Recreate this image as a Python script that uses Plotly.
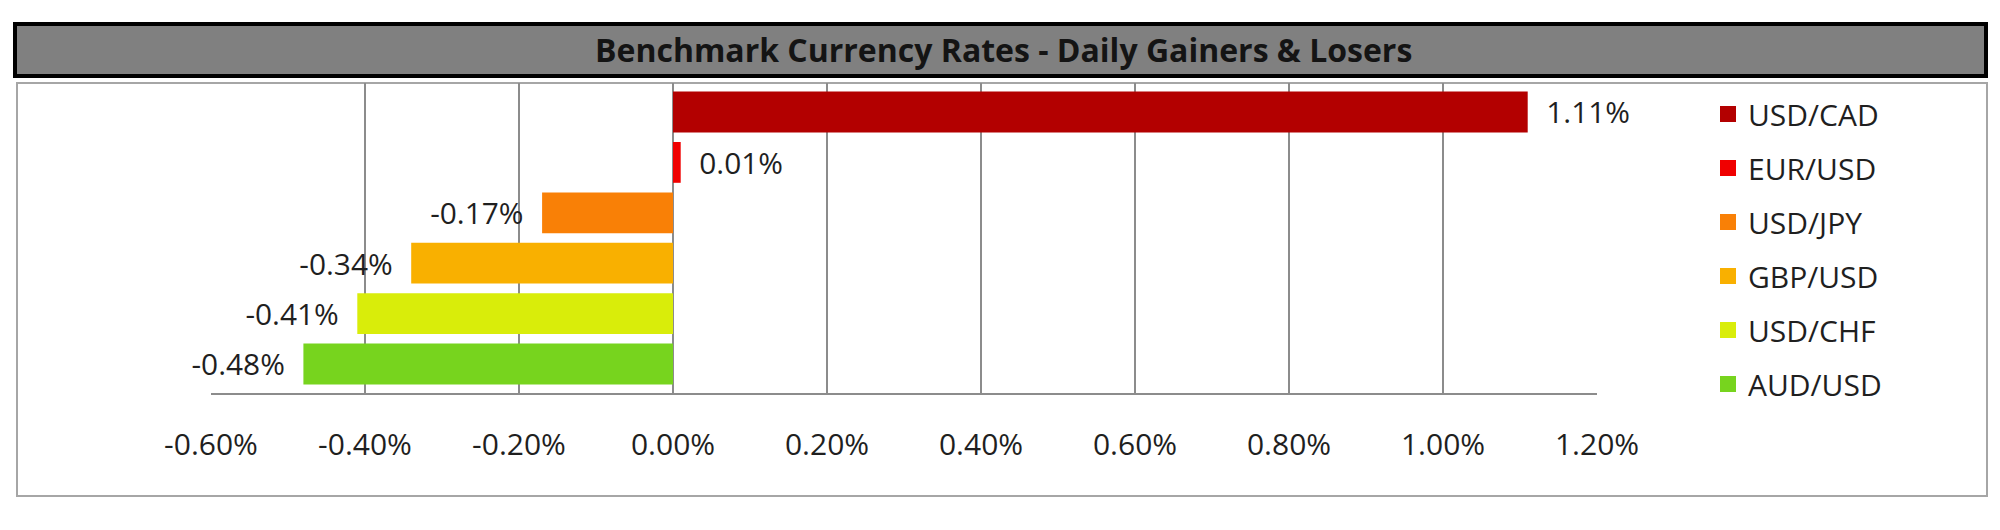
import plotly.graph_objects as go

# ---- data ----
pairs = ["USD/CAD", "EUR/USD", "USD/JPY", "GBP/USD", "USD/CHF", "AUD/USD"]
changes = [1.11, 0.01, -0.17, -0.34, -0.41, -0.48]
colors = ["#B30000", "#F00000", "#F98006", "#F9B000", "#D9ED0A", "#77D41E"]
tick_vals = [-0.6, -0.4, -0.2, 0.0, 0.2, 0.4, 0.6, 0.8, 1.0, 1.2]
tick_text = ["-0.60%", "-0.40%", "-0.20%", "0.00%", "0.20%", "0.40%",
             "0.60%", "0.80%", "1.00%", "1.20%"]
title_text = "Benchmark Currency Rates - Daily Gainers & Losers"

W, H = 2000, 530
OFF = 8  # page body margin
FONT = "Open Sans"
TXT = "#1f1f1f"
GRID = "#8c8c8c"

def px(x):
    return (x - OFF) / W

def py(y):
    return 1 - (y - OFF) / H

fig = go.Figure()

NB = "\u00a0\u00a0"
for name, val, col in zip(pairs, changes, colors):
    tt = (NB + "%{x:.2f}%") if val >= 0 else ("%{x:.2f}%" + NB)
    fig.add_trace(go.Bar(
        y=[name], x=[val], orientation="h", name=name,
        marker=dict(color=col, line=dict(width=0)),
        width=0.81,
        texttemplate=tt, textposition="outside",
        textfont=dict(family=FONT, size=30, color=TXT),
        cliponaxis=False, showlegend=False, hoverinfo="skip",
    ))

# legend entries (square markers)
for name, col in zip(pairs, colors):
    fig.add_trace(go.Scatter(
        x=[None], y=[None], mode="markers", name=name,
        legendgroup=name,
        marker=dict(symbol="square", size=16, color=col),
        showlegend=True, hoverinfo="skip",
    ))

shapes = [
    dict(type="rect", xref="paper", yref="paper",
         x0=px(17), x1=px(1987), y0=py(496), y1=py(83),
         line=dict(color="#a6a6a6", width=2), fillcolor="rgba(0,0,0,0)", layer="below"),
    dict(type="rect", xref="paper", yref="paper",
         x0=px(15), x1=px(1986), y0=py(76), y1=py(24),
         line=dict(color="#000000", width=4), fillcolor="#808080", layer="above"),
]

fig.add_annotation(
    text=title_text, xref="paper", yref="paper",
    x=px(1003), y=py(50), xanchor="center", yanchor="middle",
    showarrow=False,
    font=dict(family=FONT, size=32, color="#141414", weight=700),
)

fig.update_layout(
    width=W, height=H,
    margin=dict(l=0, r=0, t=0, b=0, pad=0, autoexpand=False),
    paper_bgcolor="white", plot_bgcolor="white",
    barmode="overlay",
    shapes=shapes,
    font=dict(family=FONT, size=30, color=TXT),
    legend=dict(
        x=px(1708), y=py(88), xanchor="left", yanchor="top",
        font=dict(family=FONT, size=30, color=TXT),
        traceorder="grouped", tracegroupgap=12,
        bgcolor="rgba(0,0,0,0)", borderwidth=0,
        itemsizing="trace",
    ),
    xaxis=dict(
        domain=[px(211), px(1597)],
        range=[-0.6, 1.2],
        tickmode="array", tickvals=tick_vals, ticktext=tick_text,
        showgrid=True, gridcolor=GRID, gridwidth=2,
        zeroline=True, zerolinecolor=GRID, zerolinewidth=2,
        showline=True, linecolor=GRID, linewidth=2,
        ticks="", ticklabelstandoff=24,
        tickfont=dict(family=FONT, size=30, color=TXT),
        automargin=False, fixedrange=True,
    ),
    yaxis=dict(
        domain=[py(393), py(83)],
        type="category", categoryorder="array", categoryarray=pairs,
        range=[5.575, -0.575],
        showticklabels=False, showgrid=False, zeroline=False, showline=False,
        automargin=False, fixedrange=True,
    ),
)

fig.write_html("out.html")
